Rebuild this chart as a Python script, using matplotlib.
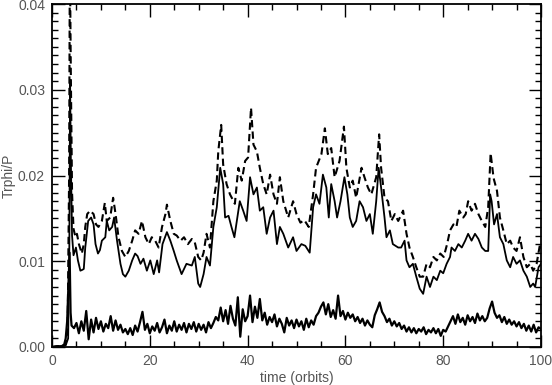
import numpy as np
import matplotlib
matplotlib.use("Agg")
import matplotlib.pyplot as plt
from matplotlib.ticker import MultipleLocator, FormatStrFormatter

# curva continua media (t en orbitas, Trphi/P)
t_medio = [0, 1, 2, 2.8, 3.3, 3.55, 3.7, 3.85, 4.1, 4.4, 4.9, 5.3, 5.8, 6.2, 6.5, 6.8, 7.4, 8.0, 8.5, 8.9,
           9.4, 9.8, 10.2, 10.9, 11.2, 11.7, 12.3, 12.7, 13.3, 14.0, 14.5, 15.0, 15.7, 16.4, 17.0, 17.5,
           18.1, 18.7, 19.4, 20.1, 20.8, 21.5, 21.9, 22.6, 23.5, 24.2, 24.9,
           25.5, 26.5, 27.5, 28.6, 29.2, 29.9, 30.3, 31.0, 31.6, 32.3, 33.0, 33.7, 34.4, 35.0, 35.4, 36.1,
           36.7, 37.3, 37.8, 38.4, 39.1, 39.8, 40.5, 41.2, 41.9, 42.5, 43.2, 43.9, 44.6, 45.3, 46.0, 46.6,
           47.3, 48.3, 49.3, 50.0,
           51.0, 51.8, 52.7, 53.4, 54.0, 54.7, 55.4, 56.1, 56.6, 57.1, 57.8, 58.3, 59.0, 59.8, 60.4, 60.9,
           61.5, 62.2, 62.9, 63.6, 64.3, 65.0, 65.6, 66.3, 66.8, 67.3, 68.0, 68.4, 69.1, 69.7, 70.8, 71.4,
           72.1, 72.5, 73.1, 73.8, 74.5, 75.2,
           75.9, 76.6, 77.3, 78.0, 78.7, 79.4, 80.0, 80.7, 81.4, 81.7, 82.4, 83.1, 83.8, 84.5, 85.1, 85.8,
           86.5, 87.2, 87.9, 88.6, 89.2, 89.6, 89.9, 90.4, 91.0, 91.6, 92.3, 93.0, 93.7, 94.3, 95.0, 95.7,
           96.4, 97.1, 97.8, 98.4, 98.8, 99.5, 100]
v_medio = [0, 0.0001, 0.0001, 0.0002, 0.001, 0.012, 0.031, 0.022, 0.013, 0.0107, 0.0116, 0.0101, 0.0089,
           0.009, 0.0091, 0.0116, 0.0147, 0.0151, 0.0143, 0.012, 0.0109, 0.0113, 0.0124, 0.0128, 0.0147,
           0.0136, 0.014, 0.0151, 0.0124, 0.0097, 0.0085, 0.0082, 0.0089, 0.0101, 0.0109, 0.0106, 0.0097,
           0.0103, 0.0089, 0.0101, 0.0085, 0.0101, 0.0087, 0.012, 0.0134, 0.0124, 0.0112,
           0.0101, 0.0085, 0.0097, 0.0095, 0.0105, 0.0074, 0.007, 0.0085, 0.0105, 0.0095, 0.014, 0.0163,
           0.0209, 0.019, 0.0151, 0.0153, 0.014, 0.0128, 0.0147, 0.017, 0.0159, 0.0147, 0.0198, 0.0178,
           0.0186, 0.0159, 0.0163, 0.0132, 0.0151, 0.0159, 0.012, 0.014, 0.0132, 0.0116, 0.0128, 0.0112,
           0.012, 0.0118, 0.011, 0.0163, 0.0178, 0.0167, 0.0201, 0.0186, 0.0151, 0.019, 0.017, 0.0151,
           0.017, 0.0198, 0.0178, 0.0151, 0.014, 0.0147, 0.017, 0.0163, 0.0147, 0.0155, 0.0132, 0.017,
           0.0209, 0.0186, 0.0151, 0.0128, 0.0136, 0.012, 0.0116, 0.0116, 0.0124, 0.0101, 0.0093, 0.0097,
           0.0082, 0.0068,
           0.0062, 0.0082, 0.007, 0.0082, 0.0078, 0.0089, 0.0086, 0.0097, 0.0105, 0.0116, 0.0112, 0.012,
           0.0116, 0.0124, 0.0132, 0.0124, 0.0132, 0.0126, 0.0116, 0.0112, 0.0112, 0.0178, 0.017, 0.0143,
           0.0155, 0.0128, 0.012, 0.0101, 0.0093, 0.0105, 0.0097, 0.0101, 0.0089, 0.0082, 0.007, 0.0074,
           0.007, 0.0093, 0.0097]

# curva a trazos
t_trazos = [0, 1, 2, 2.8, 3.2, 3.5, 3.65, 3.85, 4.1, 4.4, 4.8, 5.1, 5.5, 6.1, 6.5, 6.8, 7.2, 7.8, 8.5, 9.0,
            9.5, 10.2, 10.8, 11.2, 11.9, 12.5, 13.0, 13.6, 14.3, 15.0, 15.7, 16.4, 17.0, 17.7, 18.4, 19.1,
            19.8, 20.4, 21.1, 21.8, 22.5, 23.2, 23.5, 24.2, 24.9,
            25.5, 26.3, 27.0, 27.8, 28.6, 29.2, 29.9, 30.5, 31.0, 31.6, 32.3, 33.0, 33.7, 34.0, 34.6, 35.0,
            35.7, 36.4, 37.4, 38.1, 38.8, 39.5, 40.1, 40.7, 41.2, 41.9, 42.5, 43.2, 43.9, 44.6, 45.3, 46.0,
            46.6, 47.3, 48.3, 49.3, 50.0,
            50.8, 51.6, 52.5, 53.4, 54.0, 55.1, 55.8, 56.4, 57.1, 57.8, 58.8, 59.7, 60.2, 60.9, 61.5, 62.2,
            63.3, 63.9, 64.6, 65.3, 66.3, 66.9, 67.3, 68.0, 68.7, 69.4, 70.1, 70.8, 71.8, 72.5, 73.1, 73.8,
            74.5, 75.2,
            75.9, 76.6, 77.3, 78.0, 78.7, 79.4, 80.1, 80.8, 81.4, 82.1, 82.7, 83.3, 84.1, 84.6, 85.1, 85.8,
            86.5, 87.2, 87.9, 88.6, 89.2, 89.7, 90.3, 91.0, 91.6, 92.3, 93.0, 93.7, 94.3, 95.0, 95.7, 96.4,
            97.1, 97.8, 98.4, 99.1, 99.8, 100]
v_trazos = [0, 0.0001, 0.0001, 0.0003, 0.002, 0.02, 0.046, 0.032, 0.018, 0.0138, 0.0128, 0.0132, 0.012,
            0.0109, 0.012, 0.014, 0.0155, 0.0159, 0.0155, 0.0143, 0.014, 0.0147, 0.0168, 0.0147, 0.0151,
            0.0174, 0.0155, 0.0128, 0.0112, 0.0105, 0.0112, 0.0124, 0.0136, 0.0132, 0.0147, 0.0128, 0.012,
            0.0128, 0.0124, 0.0116, 0.014, 0.0155, 0.0166, 0.0147, 0.0132,
            0.013, 0.0124, 0.0128, 0.012, 0.0126, 0.0122, 0.0105, 0.0101, 0.011, 0.0132, 0.0116, 0.017,
            0.0194, 0.0228, 0.0259, 0.0213, 0.019, 0.0178, 0.0167, 0.0209, 0.0194, 0.0217, 0.0221, 0.0279,
            0.0236, 0.0228, 0.0209, 0.019, 0.0178, 0.0201, 0.0178, 0.0167, 0.0198, 0.017, 0.0151, 0.017,
            0.0155,
            0.0145, 0.0148, 0.014, 0.0178, 0.0209, 0.0225, 0.0255, 0.0225, 0.0232, 0.0198, 0.0217, 0.0257,
            0.0209, 0.0186, 0.0194, 0.0174, 0.0209, 0.0198, 0.0186, 0.0178, 0.0198, 0.0248, 0.0209, 0.0174,
            0.017, 0.0147, 0.0155, 0.0147, 0.0159, 0.0132, 0.0116, 0.0105, 0.0093, 0.0082,
            0.0082, 0.0097, 0.0093, 0.0105, 0.0101, 0.0109, 0.0105, 0.012, 0.0136, 0.0143, 0.014, 0.0159,
            0.0151, 0.0155, 0.017, 0.0159, 0.0167, 0.0155, 0.0147, 0.014, 0.0163, 0.0226, 0.0197, 0.0182,
            0.0151, 0.0136, 0.012, 0.0124, 0.0116, 0.0112, 0.0128, 0.0105, 0.0093, 0.0097, 0.0089, 0.0097,
            0.012, 0.0115]

# curva inferior: arranque y luego una muestra cada 0.5 orbitas desde t=4.5
t_inf_inicio = [0, 1, 2, 2.5, 2.8, 3.1, 3.4, 3.6, 3.8, 4.0]
v_inf_inicio = [0, 0, 0.0001, 0.0003, 0.001, 0.003, 0.008, 0.011, 0.004, 0.0025]
v_inferior = [
    0.0022, 0.0028, 0.0016, 0.0030, 0.0019, 0.0042, 0.0009, 0.0032, 0.0017, 0.0034, 0.0021, 0.0030,
    0.0018, 0.0027, 0.0022, 0.0036, 0.0019, 0.0031, 0.0020, 0.0026, 0.0017, 0.0021,
    0.0015, 0.0022, 0.0014,
    0.0025, 0.0018, 0.0029, 0.0041, 0.0020, 0.0027, 0.0016, 0.0024, 0.0019, 0.0028, 0.0017, 0.0023,
    0.0032, 0.0016, 0.0025, 0.0019, 0.0030, 0.0018, 0.0026, 0.0020, 0.0028, 0.0017, 0.0027, 0.0021,
    0.0029, 0.0018, 0.0027, 0.0020, 0.0026, 0.0017, 0.0029, 0.0022, 0.0028,
    0.0035, 0.0031, 0.0046, 0.0030, 0.0043, 0.0027, 0.0048, 0.0033, 0.0025, 0.0058, 0.0012, 0.0044,
    0.0030, 0.0036, 0.0060, 0.0029, 0.0047, 0.0034, 0.0056, 0.0031, 0.0040, 0.0026, 0.0035, 0.0029,
    0.0038, 0.0024, 0.0033, 0.0027, 0.0017, 0.0034, 0.0025, 0.0031, 0.0022, 0.0032,
    0.0024, 0.0030, 0.0020, 0.0033, 0.0023, 0.0031, 0.0026, 0.0036, 0.0040, 0.0047, 0.0052, 0.0038,
    0.0050, 0.0035, 0.0043, 0.0033, 0.0060, 0.0036, 0.0042, 0.0032, 0.0040, 0.0034, 0.0038, 0.0030,
    0.0035, 0.0028, 0.0033, 0.0025, 0.0031, 0.0026, 0.0023, 0.0037, 0.0044, 0.0052, 0.0041, 0.0036,
    0.0029, 0.0033, 0.0025, 0.0030, 0.0024, 0.0028, 0.0021, 0.0025, 0.0018, 0.0023, 0.0017, 0.0022,
    0.0016, 0.0021, 0.0018, 0.0023, 0.0015, 0.0020, 0.0017, 0.0022, 0.0016, 0.0021, 0.0013, 0.0020,
    0.0018, 0.0024, 0.0030, 0.0036, 0.0027, 0.0038, 0.0029, 0.0034, 0.0026, 0.0037, 0.0030, 0.0035,
    0.0028, 0.0039, 0.0031, 0.0036, 0.0030, 0.0034, 0.0045, 0.0053, 0.0040, 0.0034, 0.0037, 0.0029,
    0.0035, 0.0027, 0.0032, 0.0026, 0.0030, 0.0024, 0.0029, 0.0022, 0.0027, 0.0019, 0.0025, 0.0018,
    0.0026, 0.0017, 0.0023, 0.0021]

t_inf = t_inf_inicio + list(4.5 + 0.5 * np.arange(len(v_inferior)))
v_inf = v_inf_inicio + v_inferior

gris = "#555555"
plt.rcParams["font.family"] = ["Liberation Sans", "DejaVu Sans"]

fig = plt.figure(figsize=(5.52, 3.85), dpi=100)
ax = fig.add_axes([52 / 552, 38 / 385, 489 / 552, 343 / 385])

ax.plot(t_trazos, v_trazos, color="black", lw=1.5, ls=(0, (3.5, 2)))
ax.plot(t_medio, v_medio, color="black", lw=1.3)
ax.plot(t_inf, v_inf, color="black", lw=1.6)

ax.set_xlim(0, 100)
ax.set_ylim(0, 0.04)
ax.xaxis.set_major_locator(MultipleLocator(20))
ax.xaxis.set_minor_locator(MultipleLocator(5))
ax.yaxis.set_major_locator(MultipleLocator(0.01))
ax.yaxis.set_minor_locator(MultipleLocator(0.001))
ax.yaxis.set_major_formatter(FormatStrFormatter("%.2f"))

ax.tick_params(which="both", direction="in", top=True, right=True, colors="black",
               labelcolor=gris, labelsize=10, width=1)
ax.tick_params(which="major", length=9, pad=5)
ax.tick_params(which="minor", length=4.5)
for s in ax.spines.values():
    s.set_linewidth(1.3)

ax.set_xlabel("time (orbits)", color=gris, fontsize=10, labelpad=2)
ax.set_ylabel("Trphi/P", color=gris, fontsize=10)
ax.yaxis.set_label_coords(-0.074, 0.5)

fig.savefig("out.png", dpi=100)
